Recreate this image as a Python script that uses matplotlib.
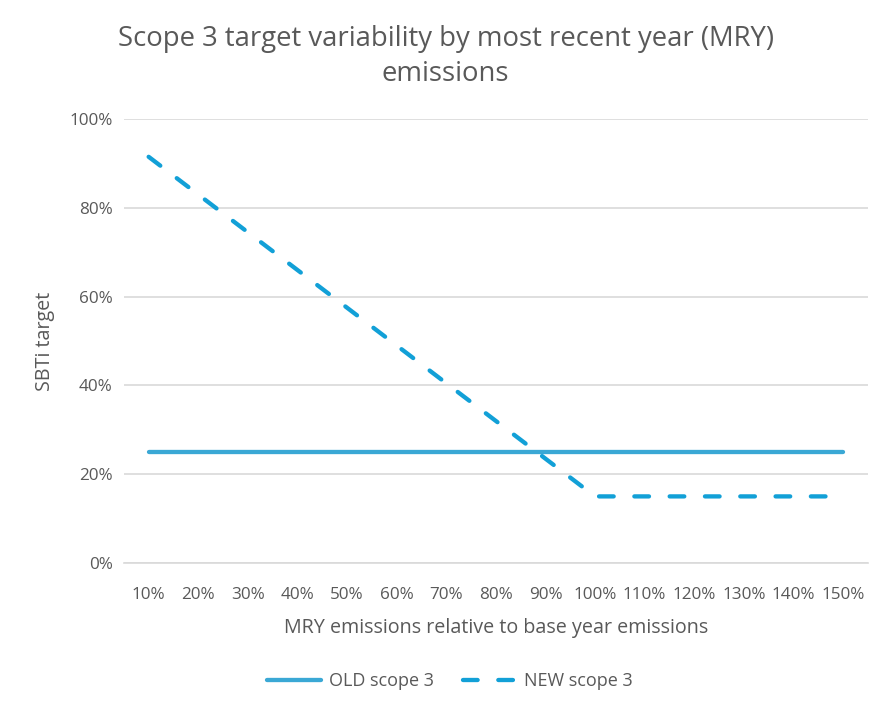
import matplotlib
matplotlib.use("Agg")
import matplotlib.pyplot as plt
from matplotlib.ticker import PercentFormatter

plt.rcParams['font.family'] = ['Open Sans', 'DejaVu Sans']

# data
mry_labels = ["10%", "20%", "30%", "40%", "50%", "60%", "70%", "80%",
              "90%", "100%", "110%", "120%", "130%", "140%", "150%"]
old_scope3 = [25, 25, 25, 25, 25, 25, 25, 25, 25, 25, 25, 25, 25, 25, 25]
new_scope3 = [91.5, 83.0, 74.5, 66.0, 57.5, 49.0, 40.5, 32.0, 23.5,
              15, 15, 15, 15, 15, 15]

grey = "#595959"
fig = plt.figure(figsize=(8.91, 7.13), dpi=100)
ax = fig.add_axes([0.139, 0.2104, 0.835, 0.6226])

x = range(len(mry_labels))
ax.plot(x, old_scope3, color="#3AA8D5", lw=3.1, solid_capstyle="round",
        label="OLD scope 3")
ax.plot(x, new_scope3, color="#12A0D7", lw=3.1, dashes=(3.4, 4.8),
        dash_capstyle="round", label="NEW scope 3")

ax.set_xlim(-0.5, len(mry_labels) - 0.5)
ax.set_ylim(0, 100)
ax.set_yticks(range(0, 101, 20))
ax.yaxis.set_major_formatter(PercentFormatter(decimals=0))
ax.set_xticks(list(x))
ax.set_xticklabels(mry_labels)
ax.grid(axis="y", color="#D9D9D9", lw=1.2)
ax.set_axisbelow(True)
for s in ax.spines.values():
    s.set_visible(False)
ax.spines["bottom"].set_visible(True)
ax.spines["bottom"].set_color("#D9D9D9")
ax.spines["bottom"].set_linewidth(1.2)
ax.tick_params(length=0, colors=grey, labelsize=12.3)
ax.tick_params(axis="x", pad=17)
ax.tick_params(axis="y", pad=8)

ax.set_xlabel("MRY emissions relative to base year emissions", color=grey,
              fontsize=14.2, labelpad=11)
ax.set_ylabel("SBTi target", color=grey, fontsize=14.2, labelpad=10)

fig.text(0.5, 0.921, "Scope 3 target variability by most recent year (MRY)\nemissions",
         ha="center", va="center", fontsize=19.8, color=grey, linespacing=1.36)

fig.legend(loc="center", bbox_to_anchor=(0.505, 0.045), ncol=2, frameon=False,
           fontsize=13, labelcolor=grey, handlelength=3.0, handletextpad=0.4,
           columnspacing=1.6)

fig.savefig("out.png", dpi=100)
